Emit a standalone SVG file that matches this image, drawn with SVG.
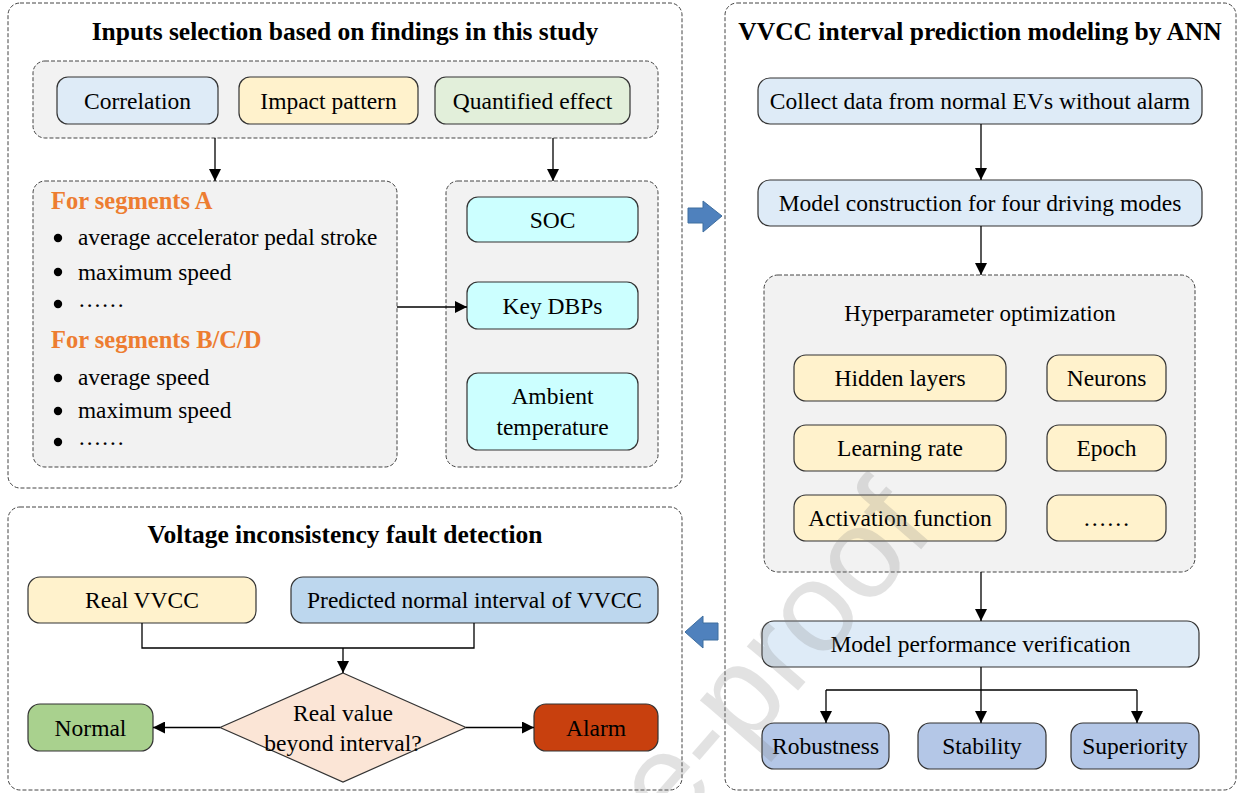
<svg xmlns="http://www.w3.org/2000/svg" width="1240" height="793" viewBox="0 0 1240 793">
<style>
text{font-family:"Liberation Serif","Times New Roman",serif;fill:#000;}
.t{font-size:23.5px;text-anchor:middle;dominant-baseline:central;}
.l{font-size:23.3px;}
.h{font-size:25.5px;font-weight:bold;text-anchor:middle;}
.o{font-size:24.5px;font-weight:bold;fill:#ed7d31;}
.panel{fill:#fff;stroke:#444;stroke-width:1;stroke-dasharray:4 2;}
.grp{fill:#f2f2f2;stroke:#444;stroke-width:1;stroke-dasharray:4 2;}
.box{stroke:#333;stroke-width:1.2;}
.ln{fill:none;stroke:#000;stroke-width:1.3;}
.ar{fill:none;stroke:#000;stroke-width:1.3;marker-end:url(#ah);}
.blk{fill:#4f81bd;stroke:#3f6e9f;stroke-width:1;}
.wm{font-family:"Liberation Sans",Arial,sans-serif;font-size:128px;fill:#808080;opacity:0.22;}
</style>
<defs>
<marker id="ah" markerUnits="userSpaceOnUse" markerWidth="12" markerHeight="12" refX="12" refY="6" orient="auto">
<path d="M0,0 L12,6 L0,12 z" fill="#000"/>
</marker>
</defs>

<g id="panel-inputs">
<rect class="panel" x="8" y="3" width="674" height="485" rx="12"/>
<text class="h" x="345" y="40">Inputs selection based on findings in this study</text>
</g>
<g id="group-findings">
<rect class="grp" x="33" y="61" width="625" height="77" rx="12"/>
</g>
<g id="node-correlation">
<rect class="box" x="57" y="77" width="161" height="47" rx="11" fill="#deebf7"/>
<text class="t" x="137.5" y="100.5">Correlation</text>
</g>
<g id="node-impact">
<rect class="box" x="239" y="77" width="179" height="47" rx="11" fill="#fff2cc"/>
<text class="t" x="328.5" y="100.5">Impact pattern</text>
</g>
<g id="node-quantified">
<rect class="box" x="435" y="77" width="195" height="47" rx="11" fill="#e2efda"/>
<text class="t" x="532.5" y="100.5">Quantified effect</text>
</g>
<g id="group-segments">
<rect class="grp" x="33" y="181" width="364" height="286" rx="12"/>
<text class="o" x="51" y="209">For segments A</text>
<circle cx="58" cy="238" r="4.2"/>
<text class="l" x="78" y="245">average accelerator pedal stroke</text>
<circle cx="58" cy="272" r="4.2"/>
<text class="l" x="78" y="280">maximum speed</text>
<circle cx="58" cy="304" r="4.2"/>
<text class="l" x="78" y="307">……</text>
<text class="o" x="51" y="348">For segments B/C/D</text>
<circle cx="58" cy="378" r="4.2"/>
<text class="l" x="78" y="385">average speed</text>
<circle cx="58" cy="411" r="4.2"/>
<text class="l" x="78" y="418">maximum speed</text>
<circle cx="58" cy="442" r="4.2"/>
<text class="l" x="78" y="445">……</text>
</g>
<g id="group-inputs">
<rect class="grp" x="446" y="181" width="212" height="286" rx="12"/>
</g>
<g id="node-soc">
<rect class="box" x="467" y="197" width="171" height="45" rx="11" fill="#ccffff"/>
<text class="t" x="552.5" y="219.5">SOC</text>
</g>
<g id="node-dbps">
<rect class="box" x="467" y="282" width="171" height="47" rx="11" fill="#ccffff"/>
<text class="t" x="552.5" y="305.5">Key DBPs</text>
</g>
<g id="node-ambient">
<rect class="box" x="467" y="373" width="171" height="77" rx="11" fill="#ccffff"/>
<text class="t" x="552.5" y="396">Ambient</text>
<text class="t" x="552.5" y="427">temperature</text>
</g>

<g id="panel-ann">
<rect class="panel" x="725" y="3" width="511" height="787" rx="12"/>
<text class="h" x="980" y="40">VVCC interval prediction modeling by ANN</text>
</g>
<g id="node-collect">
<rect class="box" x="758" y="78" width="444" height="46" rx="12" fill="#deebf7"/>
<text class="t" x="980" y="101">Collect data from normal EVs without alarm</text>
</g>
<g id="node-construct">
<rect class="box" x="758" y="180" width="444" height="46" rx="12" fill="#deebf7"/>
<text class="t" x="980" y="203">Model construction for four driving modes</text>
</g>
<g id="group-hyper">
<rect class="grp" x="764" y="275" width="431" height="297" rx="14"/>
<text class="t" x="980" y="313" style="font-size:23px">Hyperparameter optimization</text>
</g>
<g id="node-hidden">
<rect class="box" x="794" y="355" width="212" height="46" rx="12" fill="#fff2cc"/>
<text class="t" x="900" y="378">Hidden layers</text>
</g>
<g id="node-neurons">
<rect class="box" x="1047" y="355" width="119" height="46" rx="12" fill="#fff2cc"/>
<text class="t" x="1106.5" y="378">Neurons</text>
</g>
<g id="node-lr">
<rect class="box" x="794" y="425" width="212" height="46" rx="12" fill="#fff2cc"/>
<text class="t" x="900" y="448">Learning rate</text>
</g>
<g id="node-epoch">
<rect class="box" x="1047" y="425" width="119" height="46" rx="12" fill="#fff2cc"/>
<text class="t" x="1106.5" y="448">Epoch</text>
</g>
<g id="node-activation">
<rect class="box" x="794" y="495" width="212" height="46" rx="12" fill="#fff2cc"/>
<text class="t" x="900" y="518">Activation function</text>
</g>
<g id="node-more">
<rect class="box" x="1047" y="495" width="119" height="46" rx="12" fill="#fff2cc"/>
<text class="t" x="1106.5" y="518">……</text>
</g>
<g id="node-verify">
<rect class="box" x="762" y="621" width="437" height="46" rx="12" fill="#deebf7"/>
<text class="t" x="980.5" y="644">Model performance verification</text>
</g>
<g id="node-robust">
<rect class="box" x="762" y="723" width="127" height="46" rx="12" fill="#b4c7e7"/>
<text class="t" x="825.5" y="746">Robustness</text>
</g>
<g id="node-stability">
<rect class="box" x="918" y="723" width="128" height="46" rx="12" fill="#b4c7e7"/>
<text class="t" x="982" y="746">Stability</text>
</g>
<g id="node-superiority">
<rect class="box" x="1071" y="723" width="128" height="46" rx="12" fill="#b4c7e7"/>
<text class="t" x="1135" y="746">Superiority</text>
</g>

<g id="panel-detect">
<rect class="panel" x="8" y="507" width="674" height="283" rx="12"/>
<text class="h" x="345" y="543">Voltage inconsistency fault detection</text>
</g>
<g id="node-real">
<rect class="box" x="28" y="577" width="228" height="46" rx="12" fill="#fff2cc"/>
<text class="t" x="142" y="600">Real VVCC</text>
</g>
<g id="node-predicted">
<rect class="box" x="291" y="577" width="367" height="46" rx="12" fill="#bdd7ee"/>
<text class="t" x="474.5" y="600">Predicted normal interval of VVCC</text>
</g>
<g id="node-decision">
<polygon points="343,673 466,727.5 343,782 220,727.5" fill="#fbe5d6" stroke="#333" stroke-width="1.2"/>
<text class="t" x="343" y="713">Real value</text>
<text class="t" x="343" y="743">beyond interval?</text>
</g>
<g id="node-normal">
<rect class="box" x="28" y="704" width="125" height="47" rx="12" fill="#a9d18e"/>
<text class="t" x="90.5" y="727.5">Normal</text>
</g>
<g id="node-alarm">
<rect class="box" x="534" y="704" width="124" height="47" rx="12" fill="#c8400e"/>
<text class="t" x="596" y="727.5">Alarm</text>
</g>

<g id="connectors">
<path class="ar" d="M215,138 V181"/>
<path class="ar" d="M553,138 V181"/>
<path class="ar" d="M397,307 H467"/>
<path class="ar" d="M981,124 V180"/>
<path class="ar" d="M981,226 V275"/>
<path class="ar" d="M981,572 V621"/>
<path class="ar" d="M981,667 V723"/>
<path class="ln" d="M826,690 H1137"/>
<path class="ar" d="M826,690 V723"/>
<path class="ar" d="M1137,690 V723"/>
<path class="ln" d="M142,623 V648 H474 V623"/>
<path class="ar" d="M343,648 V673"/>
<path class="ar" d="M220,727.5 H153"/>
<path class="ar" d="M466,727.5 H534"/>
<path class="blk" d="M688,208 H703 V201 L722,216 L703,232 V223 H688 Z"/>
<path class="blk" d="M718,623 H703 V616 L685,632 L703,648 V640 H718 Z"/>
</g>

<text class="wm" transform="translate(790,700) rotate(-49)" text-anchor="middle">re-proof</text>
</svg>
